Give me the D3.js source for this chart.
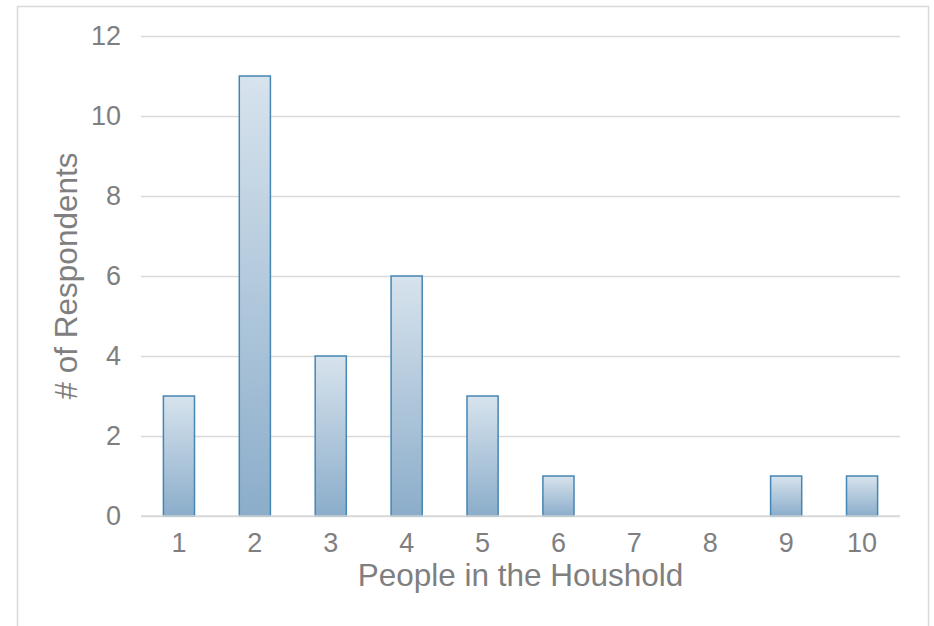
<!DOCTYPE html>
<html>
<head>
<meta charset="utf-8">
<script src="https://cdn.jsdelivr.net/npm/d3@7"></script>
<style>
  html, body { margin: 0; padding: 0; background: #fff; }
  svg { display: block; }
  text { font-family: "Liberation Sans", Arial, sans-serif; fill: #7f7f7f; }
</style>
</head>
<body>
<svg id="chart" width="934" height="626"></svg>
<script>
// Household size survey: number of respondents per household size
const householdSizes = ["1", "2", "3", "4", "5", "6", "7", "8", "9", "10"];
const respondentCounts = [3, 11, 4, 6, 3, 1, 0, 0, 1, 1];
const yTicks = [0, 2, 4, 6, 8, 10, 12];
const xTitle = "People in the Houshold";
const yTitle = "# of Respondents";

const svg = d3.select("#chart");
const plot = { left: 141, right: 900, top: 36, bottom: 516 };
const tickFont = 27, titleFont = 31.5;

// chart frame
svg.append("rect")
  .attr("x", 17.5).attr("y", 6.5)
  .attr("width", 911).attr("height", 640)
  .attr("fill", "#fff")
  .attr("stroke", "#d9d9d9").attr("stroke-width", 1.5);

const defs = svg.append("defs");
const grad = defs.append("linearGradient")
  .attr("id", "barFill")
  .attr("x1", 0).attr("y1", 0).attr("x2", 0).attr("y2", 1);
grad.append("stop").attr("offset", "0%").attr("stop-color", "#d7e3ed");
grad.append("stop").attr("offset", "100%").attr("stop-color", "#8badca");

const x = d3.scaleBand()
  .domain(householdSizes)
  .range([plot.left, plot.right])
  .paddingInner(0.59)
  .paddingOuter(0.295);

const y = d3.scaleLinear()
  .domain([0, 12])
  .range([plot.bottom, plot.top]);

// horizontal gridlines and value labels
const yAxis = d3.axisLeft(y)
  .tickValues(yTicks)
  .tickSize(-(plot.right - plot.left))
  .tickPadding(20);
const gy = svg.append("g")
  .attr("transform", `translate(${plot.left},0)`)
  .call(yAxis);
gy.select(".domain").remove();
gy.selectAll(".tick line").attr("stroke", "#d9d9d9").attr("stroke-width", 1.5);
gy.selectAll(".tick text")
  .attr("font-size", tickFont).attr("fill", "#7f7f7f")
  .attr("font-family", "Liberation Sans, Arial, sans-serif");

// bars
svg.append("g").selectAll("rect")
  .data(householdSizes.map((k, i) => ({ k, v: respondentCounts[i] })).filter(d => d.v > 0))
  .join("rect")
  .attr("x", d => x(d.k))
  .attr("y", d => y(d.v))
  .attr("width", x.bandwidth())
  .attr("height", d => y(0) - y(d.v))
  .attr("fill", "url(#barFill)")
  .attr("stroke", "#4686b4")
  .attr("stroke-width", 1.5);

// category axis
const xAxis = d3.axisBottom(x).tickSize(0).tickPadding(17);
const gx = svg.append("g")
  .attr("transform", `translate(0,${plot.bottom})`)
  .call(xAxis);
gx.select(".domain").attr("stroke", "#d9d9d9").attr("stroke-width", 1.5)
  .attr("d", `M${plot.left},0H${plot.right}`);
gx.selectAll(".tick text")
  .attr("font-size", tickFont).attr("fill", "#7f7f7f")
  .attr("font-family", "Liberation Sans, Arial, sans-serif");

// axis titles
svg.append("text")
  .attr("x", (plot.left + plot.right) / 2)
  .attr("y", 586)
  .attr("text-anchor", "middle")
  .attr("font-size", titleFont)
  .text(xTitle);

svg.append("text")
  .attr("transform", `translate(77,${(plot.top + plot.bottom) / 2}) rotate(-90)`)
  .attr("text-anchor", "middle")
  .attr("font-size", titleFont)
  .text(yTitle);
</script>
</body>
</html>
